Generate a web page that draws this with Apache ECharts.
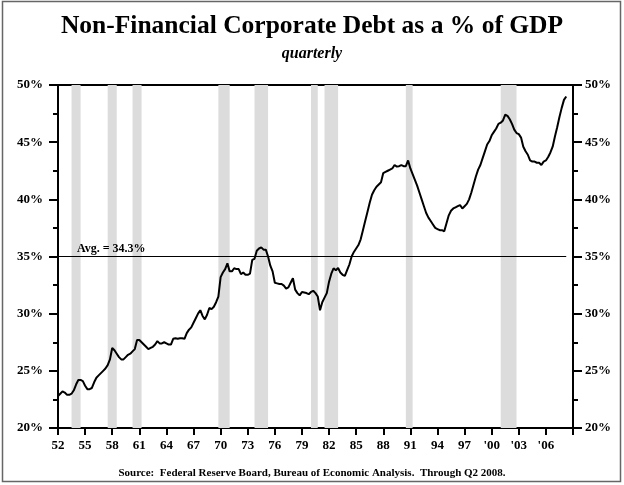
<!DOCTYPE html>
<html>
<head>
<meta charset="utf-8">
<script src="https://cdn.jsdelivr.net/npm/echarts@6/dist/echarts.min.js"></script>
<style>
html,body{margin:0;padding:0;background:#fff;}
#chart{width:624px;height:485px;}
</style>
</head>
<body>
<div id="chart"></div>
<script>
// Quarterly values, 1952Q1 .. 2008Q2 (percent of GDP)
const startYear = 1952;
const debtPct = [
  22.8, 23.0, 23.2, 23.1,   // 1952
  22.9, 22.9, 23.0, 23.3,   // 1953
  23.8, 24.2, 24.2, 24.1,   // 1954
  23.7, 23.4, 23.4, 23.5,   // 1955
  24.0, 24.4, 24.6, 24.8,   // 1956
  25.0, 25.2, 25.5, 26.0,   // 1957
  27.0, 26.8, 26.5, 26.2,   // 1958
  26.0, 26.0, 26.2, 26.4,   // 1959
  26.5, 26.7, 26.9, 27.7,   // 1960
  27.7, 27.5, 27.3, 27.1,   // 1961
  26.9, 27.0, 27.1, 27.3,   // 1962
  27.6, 27.4, 27.4, 27.5,   // 1963
  27.4, 27.3, 27.3, 27.8,   // 1964
  27.85, 27.8, 27.85, 27.85,// 1965
  27.8, 28.3, 28.6, 28.8,   // 1966
  29.2, 29.6, 30.0, 30.3,   // 1967
  29.8, 29.5, 29.9, 30.5,   // 1968
  30.4, 30.6, 31.0, 31.5,   // 1969
  33.2, 33.6, 33.9, 34.4,   // 1970
  33.7, 33.7, 33.97, 33.9,  // 1971
  33.9, 33.45, 33.6, 33.4,  // 1972
  33.4, 33.5, 34.7, 34.8,   // 1973
  35.5, 35.7, 35.8, 35.6,   // 1974
  35.6, 35.0, 34.2, 33.7,   // 1975
  32.7, 32.65, 32.6, 32.6,  // 1976
  32.45, 32.2, 32.3, 32.7,  // 1977
  33.1, 32.1, 31.8, 31.6,   // 1978
  31.9, 31.85, 31.8, 31.7,  // 1979
  31.9, 32.0, 31.8, 31.5,   // 1980
  30.3, 31.0, 31.4, 31.8,   // 1981
  32.8, 33.5, 33.97, 33.8,  // 1982
  34.0, 33.6, 33.4, 33.3,   // 1983
  33.8, 34.3, 35.0, 35.4,   // 1984
  35.7, 36.0, 36.5, 37.3,   // 1985
  38.1, 38.9, 39.7, 40.4,   // 1986
  40.8, 41.1, 41.3, 41.5,   // 1987
  42.3, 42.4, 42.5, 42.6,   // 1988
  42.7, 43.0, 42.86, 42.9,  // 1989
  43.0, 42.9, 42.9, 43.4,   // 1990
  42.7, 42.2, 41.7, 41.2,   // 1991
  40.6, 40.0, 39.4, 38.8,   // 1992
  38.4, 38.1, 37.8, 37.5,   // 1993
  37.4, 37.3, 37.3, 37.2,   // 1994
  37.9, 38.6, 39.0, 39.2,   // 1995
  39.3, 39.4, 39.5, 39.2,   // 1996
  39.4, 39.6, 40.0, 40.6,   // 1997
  41.3, 42.0, 42.6, 43.0,   // 1998
  43.6, 44.2, 44.8, 45.1,   // 1999
  45.6, 45.9, 46.2, 46.6,   // 2000
  46.7, 46.9, 47.4, 47.3,   // 2001
  47.0, 46.6, 46.1, 45.8,   // 2002
  45.7, 45.4, 44.6, 44.2,   // 2003
  43.9, 43.4, 43.3, 43.3,   // 2004
  43.2, 43.2, 43.0, 43.3,   // 2005
  43.4, 43.7, 44.1, 44.6,   // 2006
  45.5, 46.3, 47.2, 48.0,   // 2007
  48.7, 49.0                // 2008
];

// Recessions (shaded), in fractional years
const recessionStart = [1953.5, 1957.5, 1960.25, 1969.75, 1973.75, 1980.0, 1981.5, 1990.5, 2001.0];
const recessionEnd   = [1954.5, 1958.5, 1961.25, 1971.0, 1975.25, 1980.75, 1983.0, 1991.25, 2002.75];

const xTickLabels = ['52','55','58','61','64','67','70','73','76','79','82','85','88','91','94','97',"'00","'03","'06"];
const xMin = 1952, xMax = 2009, xStep = 3;
const yMin = 20, yMax = 50, yStep = 5;
const avgLineValue = 35;
const avgLabel = 'Avg. = 34.3%';

const titleText = 'Non-Financial Corporate Debt as a % of GDP';
const subtitleText = 'quarterly';
const sourceText = 'Source:  Federal Reserve Board, Bureau of Economic Analysis.  Through Q2 2008.';

const seriesData = debtPct.map((v, i) => [startYear + i / 4, v]);
const lastX = startYear + (debtPct.length - 1) / 4;

const FONT = "'Liberation Serif', 'Times New Roman', serif";
const chart = echarts.init(document.getElementById('chart'), null, {renderer: 'canvas'});

const yAxisCommon = {
  type: 'value', min: yMin, max: yMax, interval: yStep,
  axisLine: {show: true, lineStyle: {color: '#000', width: 2}},
  axisTick: {show: true, inside: false, length: 9, lineStyle: {color: '#000', width: 2}},
  minorTick: {show: true, splitNumber: 2, length: 5, lineStyle: {color: '#000', width: 2}},
  splitLine: {show: false},
  axisLabel: {formatter: '{value}%', fontFamily: FONT, fontWeight: 'bold', fontSize: 13, color: '#000'}
};

chart.setOption({
  animation: false,
  backgroundColor: '#fff',
  title: [
    {text: titleText, left: 'center', top: 8,
     textStyle: {fontFamily: FONT, fontWeight: 'bold', fontSize: 25.5, color: '#000'}},
    {text: subtitleText, left: 'center', top: 41,
     textStyle: {fontFamily: FONT, fontWeight: 'bold', fontStyle: 'italic', fontSize: 16, color: '#000'}},
    {text: sourceText, left: 'center', top: 463,
     textStyle: {fontFamily: FONT, fontWeight: 'bold', fontSize: 11, color: '#000'}}
  ],
  grid: {left: 58, right: 51, top: 85, bottom: 57, show: true, borderColor: '#000', borderWidth: 2, backgroundColor: 'transparent'},
  xAxis: {
    type: 'value', min: xMin, max: xMax, interval: xStep,
    axisLine: {show: true, onZero: false, lineStyle: {color: '#000', width: 2}},
    axisTick: {show: true, length: 7, lineStyle: {color: '#000', width: 2}},
    splitLine: {show: false},
    axisLabel: {
      margin: 11, fontFamily: FONT, fontWeight: 'bold', fontSize: 13, color: '#000',
      formatter: v => {
        const idx = Math.round((v - xMin) / xStep);
        return xTickLabels[idx] !== undefined ? xTickLabels[idx] : '';
      }
    }
  },
  yAxis: [
    Object.assign({}, yAxisCommon, {position: 'left', axisLabel: Object.assign({}, yAxisCommon.axisLabel, {margin: 15})}),
    Object.assign({}, yAxisCommon, {position: 'right', axisLabel: Object.assign({}, yAxisCommon.axisLabel, {margin: 12})})
  ],
  series: [{
    type: 'line',
    data: seriesData,
    showSymbol: false,
    symbol: 'none',
    lineStyle: {color: '#000', width: 2},
    z: 3,
    markArea: {
      silent: true,
      itemStyle: {color: '#dcdcdc'},
      data: recessionStart.map((s, i) => [{xAxis: s}, {xAxis: recessionEnd[i]}])
    },
    markLine: {
      silent: true,
      symbol: ['none', 'none'],
      lineStyle: {color: '#000', width: 1, type: 'solid'},
      label: {
        show: true, position: 'insideStartTop', formatter: avgLabel, distance: [19, 2],
        fontFamily: FONT, fontWeight: 'bold', fontSize: 12, color: '#000'
      },
      data: [[{coord: [xMin, avgLineValue]}, {coord: [lastX, avgLineValue]}]]
    }
  }],
  graphic: [{
    type: 'rect', shape: {x: 2.5, y: 1.5, width: 618, height: 480},
    style: {fill: 'none', stroke: '#666', lineWidth: 1.5}, silent: true
  }]
});
</script>
</body>
</html>
